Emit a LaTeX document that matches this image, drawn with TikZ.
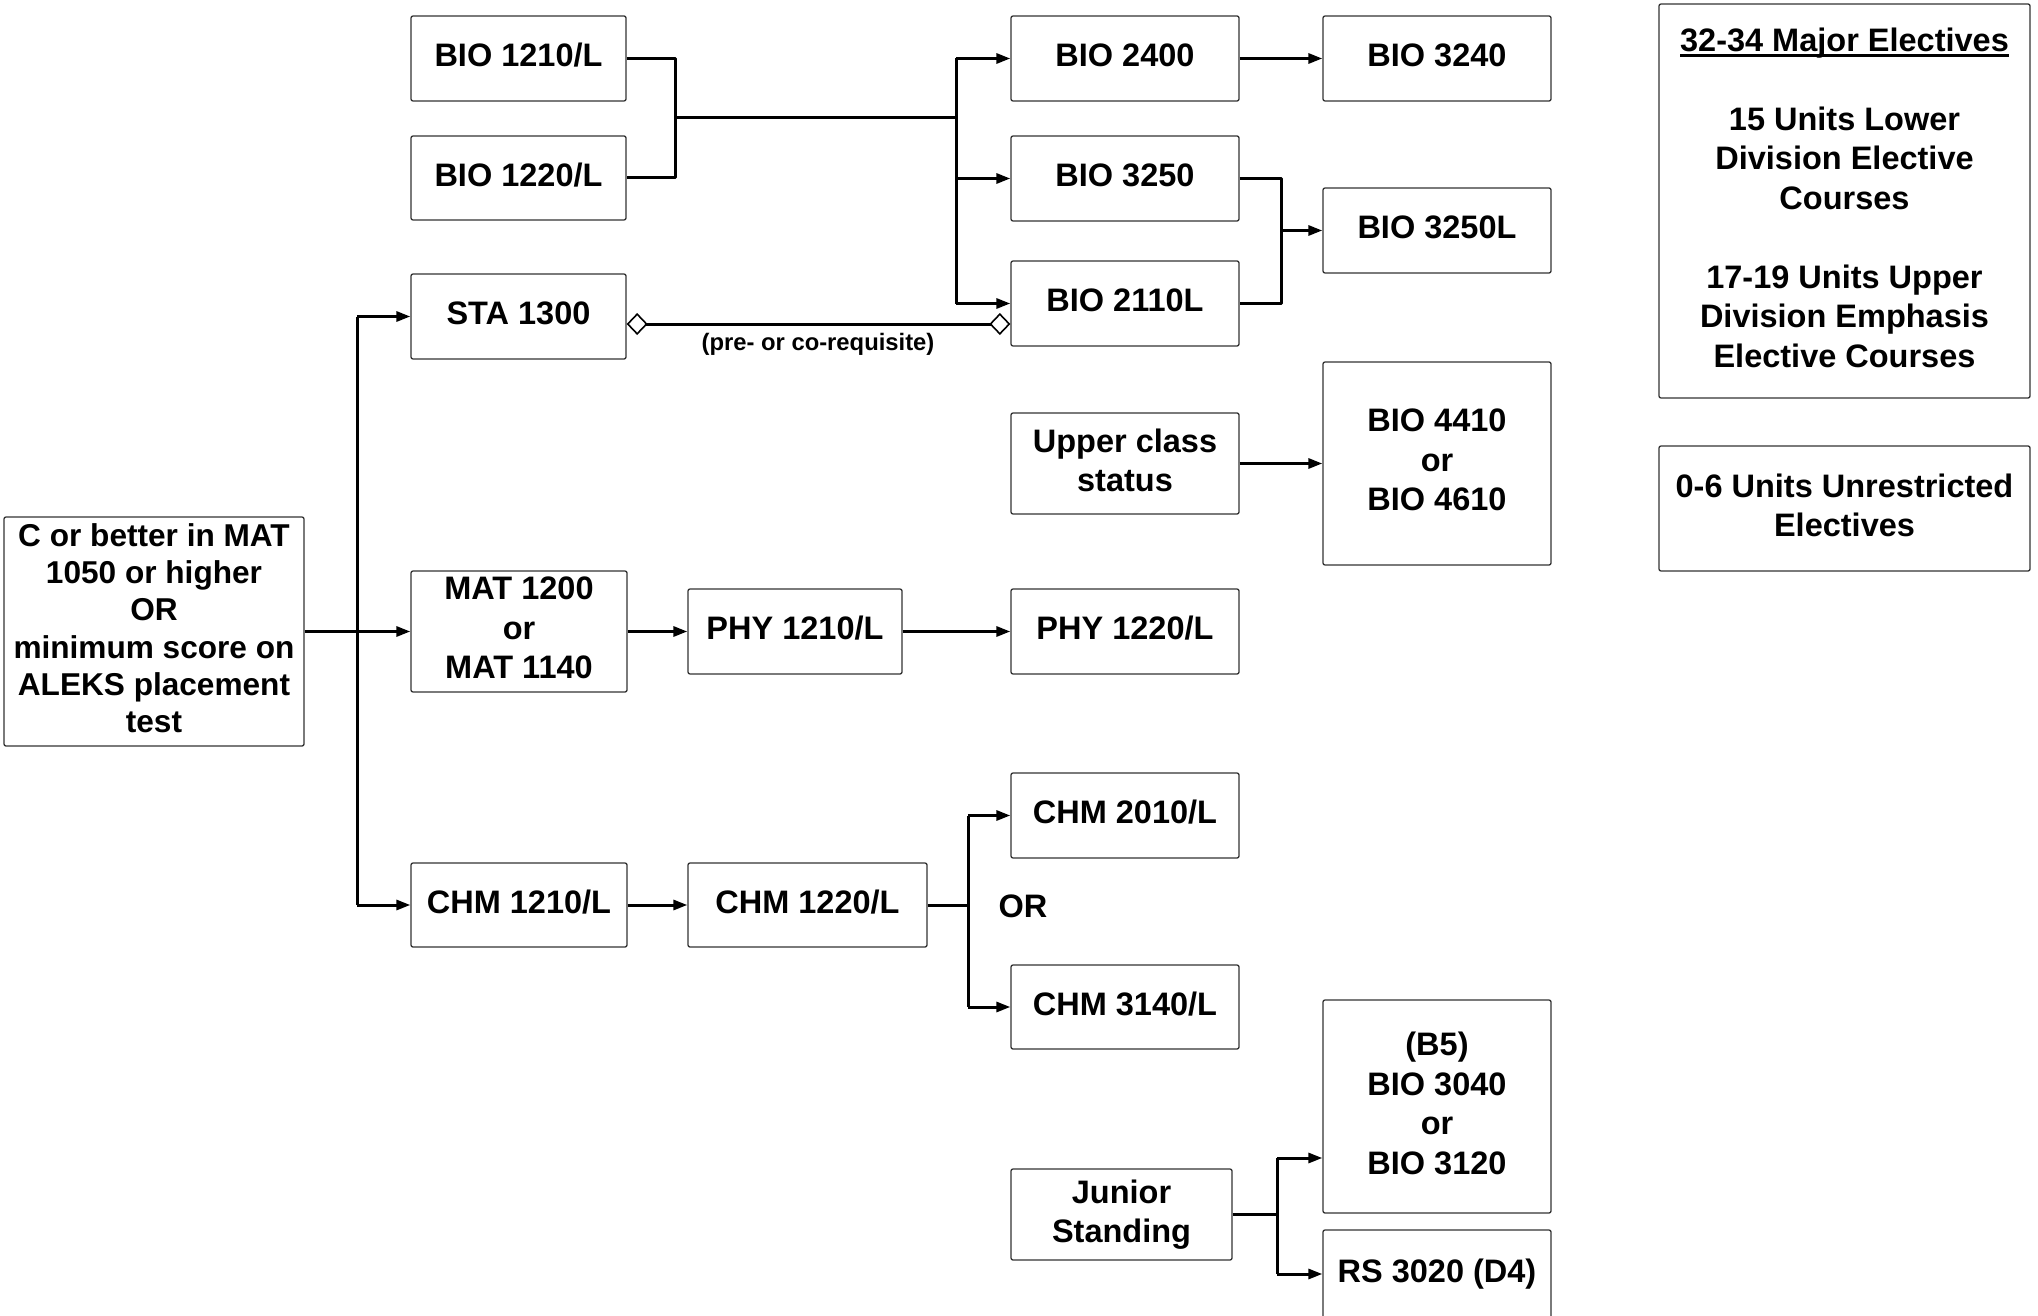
\documentclass[tikz,border=0pt]{standalone}
\usepackage{fontspec}
\setmainfont{Liberation Sans}
\usetikzlibrary{arrows.meta,calc}
\newcommand\myul[1]{\setbox0\hbox{#1}\rlap{\rule[-5.5pt]{\wd0}{3pt}}\box0}
\begin{document}
\begin{tikzpicture}[x=1pt,y=-1pt,
  box/.style={draw=black!80,line width=1.3pt,rounded corners=2pt,fill=white,align=center,inner sep=0pt,
    text depth=7pt,font=\fontsize{32.5}{39.5}\selectfont\bfseries},
  conn/.style={line width=3pt,line join=round,line cap=butt},
  arr/.style={conn,-{Triangle[length=14pt,width=10pt]}},
  diam/.style={line width=3pt,{Diamond[open,length=21pt,width=22pt,line width=1.6pt]}-{Diamond[open,length=21pt,width=22pt,line width=1.6pt]}},
  lbl/.style={inner sep=0pt,font=\fontsize{32.5}{39.5}\selectfont\bfseries},
  small/.style={inner sep=0pt,font=\fontsize{23.8}{28}\selectfont\bfseries}
]
\useasboundingbox (0,0) rectangle (2038,1316);
\fill[white] (0,0) rectangle (2038,1316);
\clip (0,0) rectangle (2038,1316);

% column 1
\node[box,minimum width=300pt,minimum height=229pt,font=\fontsize{31.6}{37.2}\selectfont\bfseries] (left) at (154,631.5)
  {C or better in MAT\\1050 or higher\\OR\\minimum score on\\ALEKS placement\\test};

% column 2
\node[box,minimum width=215pt,minimum height=85pt] (bio1210) at (518.5,58.5) {BIO 1210/L};
\node[box,minimum width=215pt,minimum height=84pt] (bio1220) at (518.5,178) {BIO 1220/L};
\node[box,minimum width=215pt,minimum height=85pt] (sta) at (518.5,316.5) {STA 1300};
\node[box,minimum width=216pt,minimum height=121pt] (mat) at (519,631.5) {MAT 1200\\or\\MAT 1140};
\node[box,minimum width=216pt,minimum height=84pt] (chm1210) at (519,905) {CHM 1210/L};

% column 3
\node[box,minimum width=214pt,minimum height=85pt] (phy1210) at (795,631.5) {PHY 1210/L};
\node[box,minimum width=239pt,minimum height=84pt] (chm1220) at (807.5,905) {CHM 1220/L};

% column 4
\node[box,minimum width=228pt,minimum height=85pt] (bio2400) at (1125,58.5) {BIO 2400};
\node[box,minimum width=228pt,minimum height=85pt] (bio3250) at (1125,178.5) {BIO 3250};
\node[box,minimum width=228pt,minimum height=85pt] (bio2110) at (1125,303.5) {BIO 2110L};
\node[box,minimum width=228pt,minimum height=101pt] (upper) at (1125,463.5) {Upper class\\status};
\node[box,minimum width=228pt,minimum height=85pt] (phy1220) at (1125,631.5) {PHY 1220/L};
\node[box,minimum width=228pt,minimum height=85pt] (chm2010) at (1125,815.5) {CHM 2010/L};
\node[box,minimum width=228pt,minimum height=84pt] (chm3140) at (1125,1007) {CHM 3140/L};
\node[box,minimum width=221pt,minimum height=91pt] (junior) at (1121.5,1214.5) {Junior\\Standing};
\node[lbl] (or) at (1023,906) {OR};

% column 5
\node[box,minimum width=228pt,minimum height=85pt] (bio3240) at (1437,58.5) {BIO 3240};
\node[box,minimum width=228pt,minimum height=85pt] (bio3250L) at (1437,230.5) {BIO 3250L};
\node[box,minimum width=228pt,minimum height=203pt] (bio4410) at (1437,463.5) {BIO 4410\\or\\BIO 4610};
\node[box,minimum width=228pt,minimum height=213pt] (b5) at (1437,1106.5) {(B5)\\BIO 3040\\or\\BIO 3120};
\node[box,minimum width=228pt,minimum height=88pt] (rs) at (1437,1274) {RS 3020 (D4)};

% right
\node[box,minimum width=371pt,minimum height=394pt] (elect) at (1844.5,201)
  {\myul{32-34 Major Electives}\\[39.5pt]15 Units Lower\\Division Elective\\Courses\\[39.5pt]17-19 Units Upper\\Division Emphasis\\Elective Courses};
\node[box,minimum width=371pt,minimum height=125pt] (unres) at (1844.5,508.5) {0-6 Units Unrestricted\\Electives};

% connectors: BIO 1210/1220 join
\coordinate (ja) at (675,118);
\coordinate (jb) at (956,118);
\draw[conn] (bio1210.east) -- (ja |- bio1210.east) -- (ja |- bio1220.east) -- (bio1220.east);
\draw[conn] (ja) -- (jb);
\draw[conn] (jb |- bio2400.west) -- (jb |- bio2110.west);
\draw[arr] (jb |- bio2400.west) -- (bio2400.west);
\draw[arr] (jb |- bio3250.west) -- (bio3250.west);
\draw[arr] (jb |- bio2110.west) -- (bio2110.west);
\draw[arr] (bio2400.east) -- (bio3240.west);

% BIO 3250 + BIO 2110L -> BIO 3250L
\coordinate (k) at (1281,230.5);
\draw[conn] (bio3250.east) -- (k |- bio3250.east) -- (k |- bio2110.east) -- (bio2110.east);
\draw[arr] (k |- bio3250L.west) -- (bio3250L.west);

% STA <-> BIO 2110L
\coordinate (sd) at ([yshift=-7.5pt]sta.east);
\draw[diam] (sd) -- (sd -| bio2110.west);
\node[small] (req) at (818,344) {(pre- or co-requisite)};

% upper class
\draw[arr] (upper.east) -- (bio4410.west);

% trunk
\coordinate (t) at (357,631.5);
\draw[conn] (t |- sta.west) -- (t |- chm1210.west);
\draw[arr] (t |- sta.west) -- (sta.west);
\draw[arr] (left.east) -- (mat.west);
\draw[arr] (t |- chm1210.west) -- (chm1210.west);

\draw[arr] (mat.east) -- (phy1210.west);
\draw[arr] (phy1210.east) -- (phy1220.west);
\draw[arr] (chm1210.east) -- (chm1220.west);

% chemistry branch
\coordinate (c) at (968,905);
\draw[conn] (chm1220.east) -- (c);
\draw[conn] (c |- chm2010.west) -- (c |- chm3140.west);
\draw[arr] (c |- chm2010.west) -- (chm2010.west);
\draw[arr] (c |- chm3140.west) -- (chm3140.west);

% junior branch
\coordinate (jj) at (1277,1214.5);
\coordinate (b5in) at ([yshift=-51.5pt]b5.west);
\draw[conn] (junior.east) -- (jj);
\draw[conn] (jj |- b5in) -- (jj |- rs.west);
\draw[arr] (jj |- b5in) -- (b5in);
\draw[arr] (jj |- rs.west) -- (rs.west);
\end{tikzpicture}
\end{document}
